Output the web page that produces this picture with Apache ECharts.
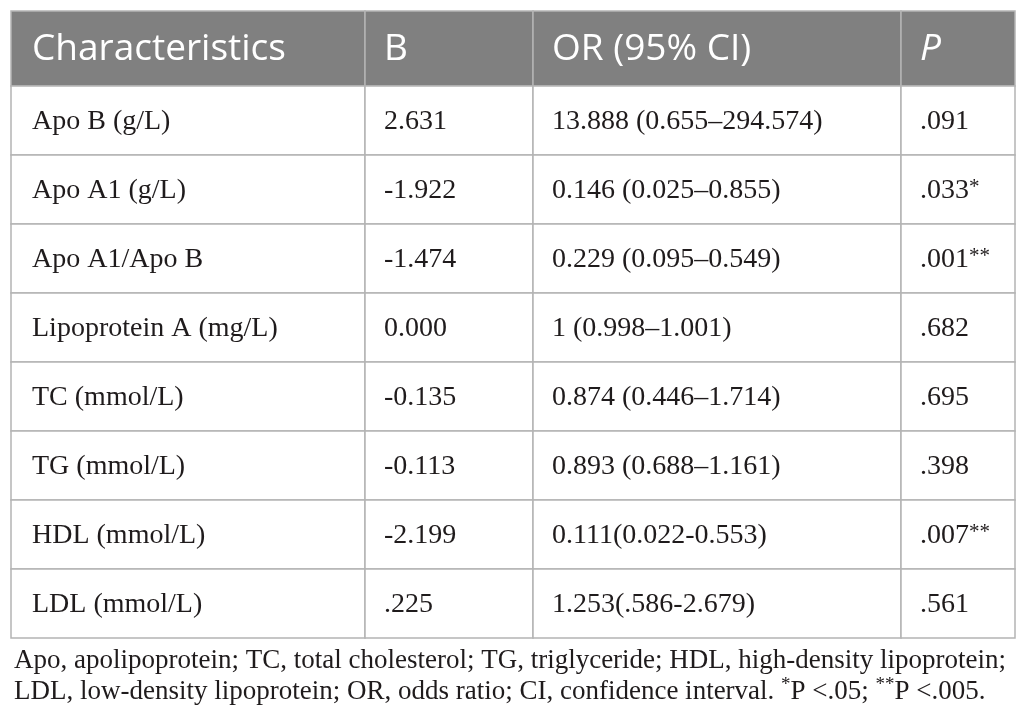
<!DOCTYPE html>
<html>
	<head>
		<meta charset="utf-8">
		<script src="https://cdn.jsdelivr.net/npm/echarts@6/dist/echarts.min.js"></script>
		<title>Logistic regression table</title>
	</head>
	<body>
		<style>
			html,
			body,
			#main {
				width: 100%;
				height: 100%;
				margin: 0;
				background: #fff;
			}
		</style>
		<div id="main"></div>
		<script type="text/javascript">
			// 表格数据
			var headers = ['Characteristics', 'B', 'OR (95% CI)', 'P'];
			var characteristics = ['Apo B (g/L)', 'Apo A1 (g/L)', 'Apo A1/Apo B', 'Lipoprotein A (mg/L)',
				'TC (mmol/L)', 'TG (mmol/L)', 'HDL (mmol/L)', 'LDL (mmol/L)'];
			var bValues = ['2.631', '-1.922', '-1.474', '0.000', '-0.135', '-0.113', '-2.199', '.225'];
			var orValues = ['13.888 (0.655–294.574)', '0.146 (0.025–0.855)', '0.229 (0.095–0.549)',
				'1 (0.998–1.001)', '0.874 (0.446–1.714)', '0.893 (0.688–1.161)', '0.111(0.022-0.553)',
				'1.253(.586-2.679)'];
			var pValues = ['.091', '.033', '.001', '.682', '.695', '.398', '.007', '.561'];
			var pStars = ['', '*', '**', '', '', '', '**', ''];
			var footnote = [
				'Apo, apolipoprotein; TC, total cholesterol; TG, triglyceride; HDL, high-density lipoprotein;',
				'LDL, low-density lipoprotein; OR, odds ratio; CI, confidence interval. {s|*}P <.05; {s|**}P <.005.'
			];

			// 版式：列边界（像素，相对表格左边）
			var colEdges = [0, 354, 522, 890, 1004];
			var lineColor = '#b4b4b4';
			var serif = '"Liberation Serif", "DejaVu Serif", serif';
			var sans = '"Open Sans", "Noto Sans", sans-serif';

			var columns = [characteristics, bValues, orValues, pValues];
			var bodyCells = [];
			for (var r = 0; r < characteristics.length; r++) {
				for (var c = 0; c < columns.length; c++) {
					var txt = columns[c][r];
					if (c === 3 && pStars[r]) {
						txt = txt + '{s|' + pStars[r] + '}';
					}
					bodyCells.push({ value: [c, r], label: txt });
				}
			}
			var headCells = headers.map(function(h, c) {
				return { value: [c, 0], label: h };
			});

			function cellRenderer(cells, isHead) {
				return function(params, api) {
					var col = api.value(0);
					var row = api.value(1);
					var p0 = api.coord([colEdges[col], row]);
					var p1 = api.coord([colEdges[col + 1], row]);
					var h = api.size([0, 1])[1];
					var top = p0[1] - h / 2;
					return {
						type: 'group',
						children: [{
							type: 'rect',
							shape: { x: p0[0], y: top, width: p1[0] - p0[0], height: h },
							style: { fill: isHead ? '#808080' : '#fff', stroke: lineColor, lineWidth: 1.5 }
						}, {
							type: 'text',
							x: p0[0] + (col === 0 ? 21 : 19),
							y: p0[1] + (isHead ? 1 : 1),
							style: {
								text: cells[params.dataIndex].label,
								fill: isHead ? '#fff' : '#1f1b1c',
								fontFamily: isHead ? sans : serif,
								fontSize: isHead ? 37 : 28,
								fontStyle: (isHead && col === 3) ? 'italic' : 'normal',
								align: 'left',
								verticalAlign: 'middle',
								rich: {
									s: { fontSize: 21, fontFamily: serif, fill: '#1f1b1c', verticalAlign: 'top' }
								}
							}
						}]
					};
				};
			}

			var myChart = echarts.init(document.getElementById('main'));
			var option = {
				animation: false,
				title: {
					text: footnote.join('\n'),
					left: 9,
					top: 640,
					textStyle: {
						fontFamily: serif,
						fontSize: 27,
						fontWeight: 'normal',
						color: '#1f1b1c',
						lineHeight: 31,
						rich: {
							s: { fontFamily: serif, fontSize: 19, color: '#1f1b1c', verticalAlign: 'top', lineHeight: 31 }
						}
					}
				},
				grid: [
					{ left: 11, right: 11, top: 11, height: 75 },
					{ left: 11, right: 11, top: 86, bottom: 89 }
				],
				xAxis: [
					{ gridIndex: 0, type: 'value', min: 0, max: 1004, show: false },
					{ gridIndex: 1, type: 'value', min: 0, max: 1004, show: false }
				],
				yAxis: [
					{ gridIndex: 0, type: 'category', data: ['header'], show: false },
					{ gridIndex: 1, type: 'category', data: characteristics, inverse: true, show: false }
				],
				series: [{
					type: 'custom',
					xAxisIndex: 0,
					yAxisIndex: 0,
					renderItem: cellRenderer(headCells, true),
					data: headCells
				}, {
					type: 'custom',
					xAxisIndex: 1,
					yAxisIndex: 1,
					renderItem: cellRenderer(bodyCells, false),
					data: bodyCells
				}]
			};
			myChart.setOption(option);

			window.onresize = function() {
				myChart.resize();
			}
		</script>
	</body>
</html>
